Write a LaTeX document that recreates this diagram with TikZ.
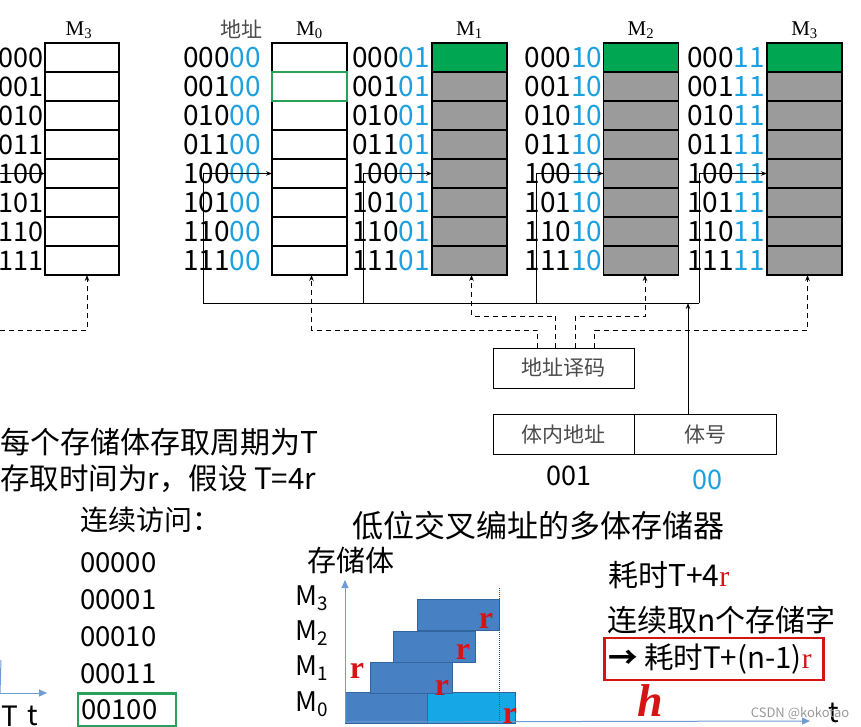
\documentclass[tikz,border=0pt]{standalone}
\usepackage{fontspec}
\setmainfont{Noto Sans CJK SC}
\newfontfamily\tms{Liberation Serif}
\usetikzlibrary{arrows.meta, positioning}
\definecolor{cLow}{RGB}{30,160,222}
\definecolor{cCell}{RGB}{155,155,155}
\definecolor{cTop}{RGB}{0,166,81}
\definecolor{cHit}{RGB}{40,160,90}
\definecolor{cLbl}{RGB}{75,75,75}
\definecolor{cBar}{RGB}{72,128,196}
\definecolor{cBarL}{RGB}{22,168,230}
\definecolor{cBarE}{RGB}{50,100,160}
\definecolor{cAxis}{RGB}{110,155,210}
\definecolor{cRed}{RGB}{215,20,20}
\newcommand{\fsz}[1]{\fontsize{#1}{#1}\selectfont}

\begin{document}
\begin{tikzpicture}[
    x=1pt, y=-1pt,
    >={Stealth[length=6pt, width=4.5pt]},
    cell/.style={draw, line width=1.1pt, minimum width=75pt, minimum height=29pt,
                 inner sep=0pt, outer sep=0pt},
    addr/.style={inner sep=0pt, font=\fsz{28}},
    bank/.style={inner sep=0pt, font=\tms\fsz{21}},
    pbox/.style={draw, line width=1pt, minimum width=141pt, minimum height=40pt,
                 inner sep=0pt, outer sep=0pt, font=\fsz{21}, text=cLbl},
    wire/.style={line width=1pt},
    dsh/.style={line width=1pt, dash pattern=on 5pt off 4pt},
    txt/.style={inner sep=0pt, anchor=west},
    bar/.style={draw=cBarE, line width=0.6pt, fill=cBar, minimum width=82pt,
                minimum height=31pt, inner sep=0pt, outer sep=0pt, anchor=north west},
    axis/.style={color=cAxis, line width=1pt, -{Triangle[length=8pt, width=7pt]}},
    rr/.style={inner sep=0pt, text=cRed, font=\tms\bfseries\fsz{32}}]
  \useasboundingbox (0,0) rectangle (861,727);

  % left bank, cut off by the page edge
  \foreach \p [count=\i] in {000,001,010,011,100,101,110,111} {
    \node[cell, minimum width=74pt] (lc\i) at (82, {57.5+29*(\i-1)}) {};
    \node[addr, font=\fsz{27}, left=1pt of lc\i] (la\i) {\p};
  }
  \node[bank, above=4pt of lc1, xshift=-3pt] (labl) {M\textsubscript{3}};

  % four banks
  \foreach \k/\x/\suf/\fc/\tc/\g in {0/309.5/00/white/white/11pt,
      1/469.5/01/cCell/cTop/2pt, 2/641/10/cCell/cTop/1pt, 3/804.5/11/cCell/cTop/2pt} {
    \foreach \p [count=\i] in {000,001,010,011,100,101,110,111} {
      \ifnum\i=1 \def\cf{\tc}\else\def\cf{\fc}\fi
      \node[cell, fill=\cf] (m\k c\i) at (\x, {57.5+29*(\i-1)}) {};
      \node[addr, left=\g of m\k c\i] (a\k c\i) {\p\textcolor{cLow}{\suf}};
    }
    \node[bank, above=4pt of m\k c1] (lab\k) {M\textsubscript{\k}};
  }
  \node[cell, draw=cHit, line width=2.6pt] (hit0) at (m0c2) {};
  \node[font=\fsz{21}, text=cLbl, inner sep=0pt] (addrhd) at (241,29) {地址};

  % address lines
  \coordinate (lin) at (0,173.5);
  \draw[wire, ->] (lin) -- (lc5.west);
  \coordinate (v0) at (203,303);
  \coordinate (v1) at (363,303);
  \coordinate (v2) at (536,303);
  \coordinate (v3) at (699,303);
  \foreach \k in {0,...,3}
    \draw[wire, ->] (v\k) |- (m\k c5.west);
  \draw[wire] (v0) -- (v3);

  % decoder and address register
  \node[pbox] (dec) at (563.5,368) {地址译码};
  \node[pbox] (inner) at (563.5,434.5) {体内地址};
  \node[pbox, minimum width=142pt, right=0pt of inner] (bankno) {体号};
  \node[addr, font=\fsz{27}, below=11pt of inner, xshift=5pt] (offv) {001};
  \node[addr, font=\fsz{27}, text=cLow, below=15pt of bankno, xshift=2pt] (bankv) {00};
  \coordinate (busin) at (688,303);
  \draw[wire, ->] (busin |- bankno.north) -- (busin);

  \coordinate (up) at (0,316);
  \coordinate (lo) at (0,330);
  \coordinate (d1) at ([xshift=-26pt]dec.north);
  \coordinate (d2) at ([xshift=-8pt]dec.north);
  \coordinate (d3) at ([xshift=12pt]dec.north);
  \coordinate (d4) at ([xshift=31pt]dec.north);
  \draw[dsh, ->] (d1) -- (d1 |- lo) -| ([xshift=2pt]m0c8.south);
  \draw[dsh, ->] (d2) -- (d2 |- up) -| ([xshift=2pt]m1c8.south);
  \draw[dsh, ->] (d3) -- (d3 |- up) -| ([xshift=4pt]m2c8.south);
  \draw[dsh, ->] (d4) -- (d4 |- lo) -| ([xshift=3pt]m3c8.south);
  \coordinate (lout) at (0,330);
  \draw[dsh, ->] (lout) -| ([xshift=5pt]lc8.south);

  % notes
  \node[txt, font=\fsz{30}] (cyc) at (0,442) {每个存储体存取周期为T};
  \node[txt, font=\fsz{29.5}] (acc) at (0,479) {存取时间为r，假设 T=4r};
  \node[txt, font=\fsz{28}] (seq) at (80,520) {连续访问：};
  \foreach \w [count=\i] in {00000,00001,00010,00011}
    \node[txt, font=\fsz{27.5}] (s\i) at (80, {563+36.8*(\i-1)}) {\w};
  \node[txt, font=\fsz{27.5}, draw=cHit, line width=2.4pt, inner xsep=3pt,
        minimum width=98pt, minimum height=33pt, text width=92pt] (s5) at (77,710) {00100};

  % fragment of an earlier timing chart
  \coordinate (fo) at (0,693);
  \coordinate (fx) at (47,693);
  \coordinate (fy) at (1,660);
  \draw[color=cAxis, line width=1pt] (fo) -- (fy);
  \draw[axis] (fo) -- (fx);
  \node[txt, font=\fsz{28}] (fT) at (1,716) {T};
  \node[txt, font=\fsz{28}] (ft) at (27,716) {t};

  % timing chart
  \node[txt, font=\fsz{31}] (title) at (352,526) {低位交叉编址的多体存储器};
  \node[txt, font=\fsz{29}] (ylab) at (307,560) {存储体};
  \coordinate (o) at (345,722);
  \coordinate (ytop) at (345,580);
  \coordinate (xend) at (810,721);
  \node[bar] (bm0) at (345,692) {};
  \node[bar, fill=cBarL, minimum width=88pt] (bm0b) at (427,692) {};
  \node[bar] (bm1) at (370,662) {};
  \node[bar] (bm2) at (393,631) {};
  \node[bar] (bm3) at (417,599) {};
  \draw[axis] (o) -- (ytop);
  \draw[axis] (o) -- (xend);
  \coordinate (rtop) at (499,588);
  \draw[cRed, densely dotted, line width=1pt] (rtop) -- (rtop |- o);
  \foreach \j/\yy in {3/598,2/633,1/668,0/704}
    \node[txt, font=\fsz{27}] (cm\j) at (295,\yy) {M\textsubscript{\j}};
  \node[rr] (r3) at (486,621) {r};
  \node[rr] (r2) at (463,652) {r};
  \node[rr] (r1) at (442,688) {r};
  \node[rr] (rl) at (357,671) {r};
  \node[rr] (r0) at (510,716) {r};
  \node[font=\fsz{28}, inner sep=0pt] (tlab) at (834,713) {t};

  % results
  \node[txt, font=\fsz{30}] (t4r) at (608,575) {耗时T+4{\tms\color{cRed}r}};
  \node[txt, font=\fsz{30}] (nword) at (607,620) {连续取n个存储字};
  \node[txt, draw=cRed, line width=2.6pt, minimum width=219pt, minimum height=42pt]
        (res) at (603,659) {};
  \node[txt, font=\fsz{29.5}] (restxt) at ([xshift=5pt]res.west)
        {{\bfseries →} 耗时T+(n-1){\tms\color{cRed}r}};
  \node[font=\tms\bfseries\itshape\fsz{46}, text=cRed, inner sep=0pt] (hh) at (650,701) {h};
  \node[font=\fsz{13}, text=gray!80, inner sep=0pt] (wm) at (800,713) {CSDN @kokotao};
\end{tikzpicture}
\end{document}
